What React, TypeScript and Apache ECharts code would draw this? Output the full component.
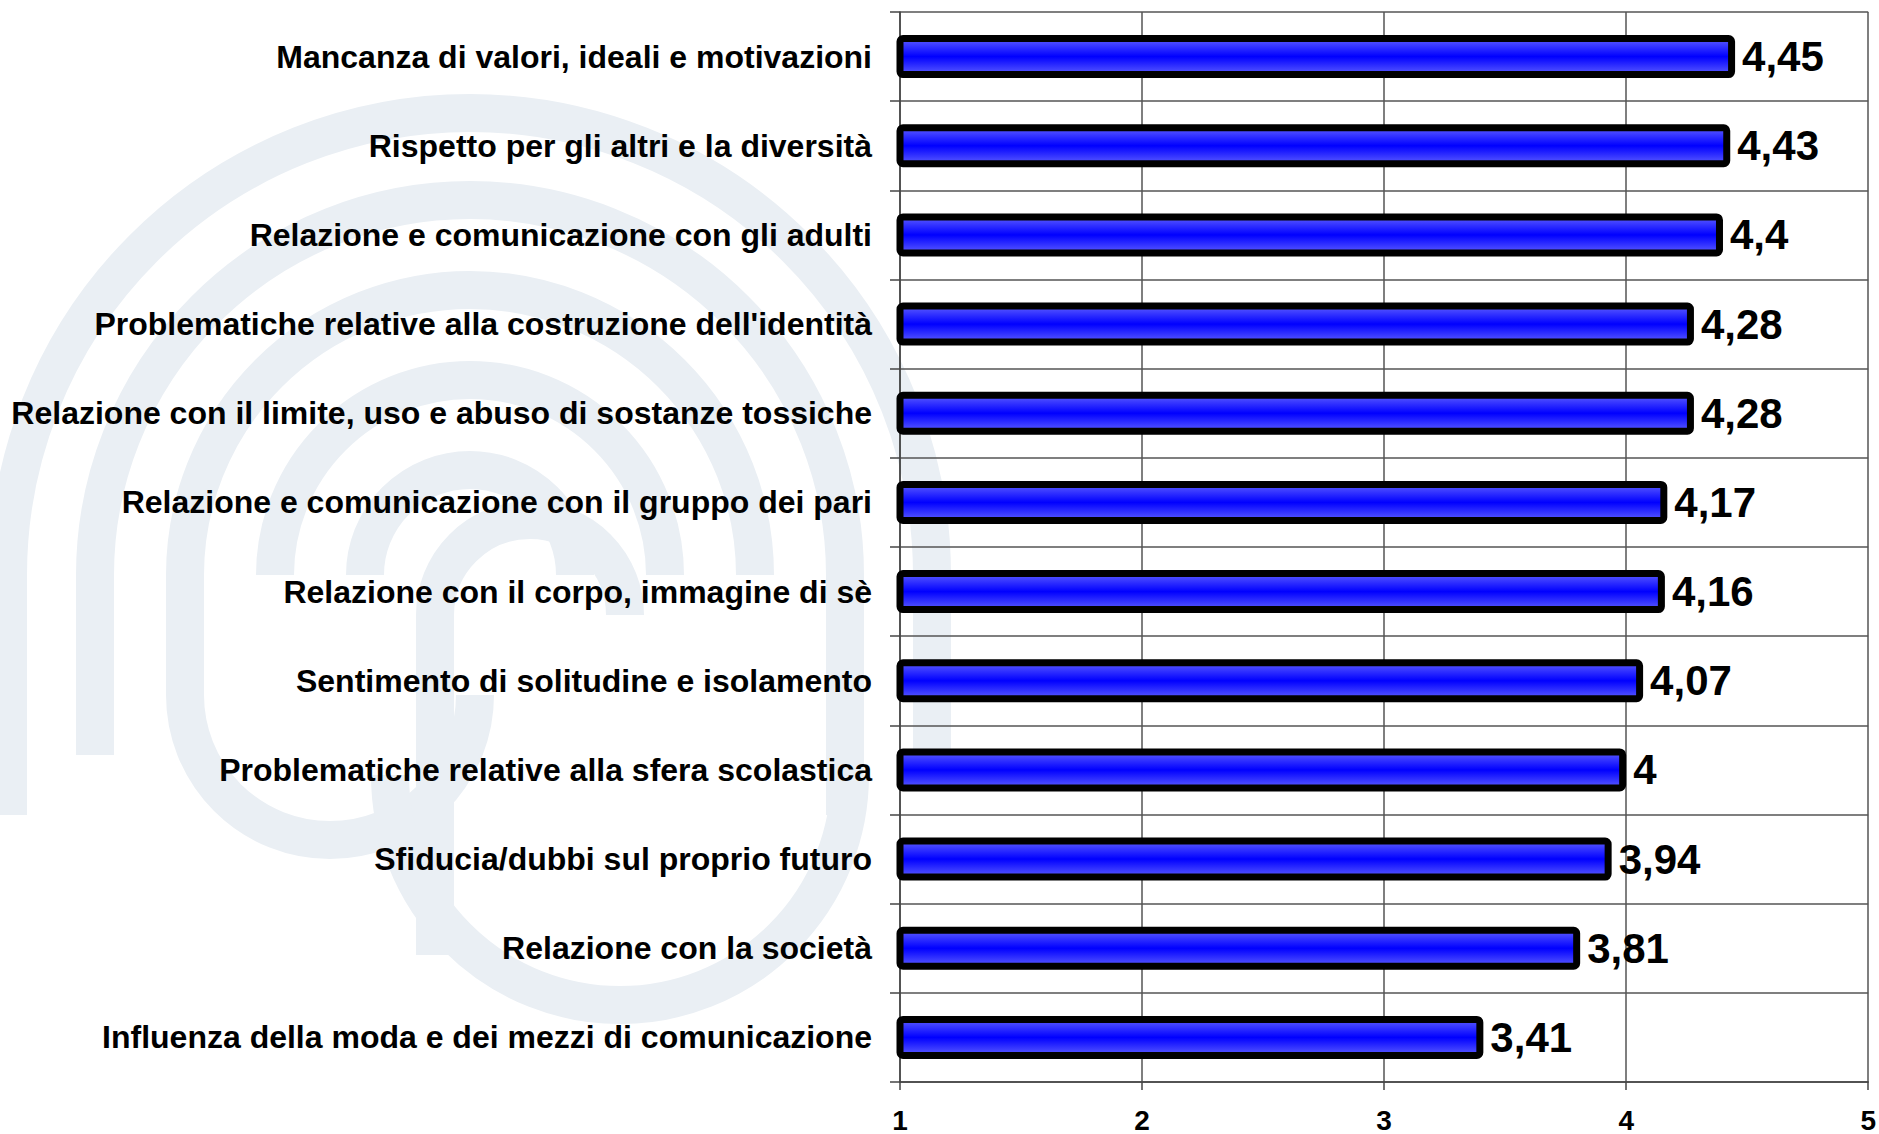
import React, { useEffect, useRef } from "react";
import * as echarts from "echarts";

const categories = [
  "Mancanza di valori, ideali e motivazioni",
  "Rispetto per gli altri e la diversità",
  "Relazione e comunicazione con gli adulti",
  "Problematiche relative alla costruzione dell'identità",
  "Relazione con il limite, uso e abuso di sostanze tossiche",
  "Relazione e comunicazione con il gruppo dei pari",
  "Relazione con il corpo, immagine di sè",
  "Sentimento di solitudine e isolamento",
  "Problematiche relative alla sfera scolastica",
  "Sfiducia/dubbi sul proprio futuro",
  "Relazione con la società",
  "Influenza della moda e dei mezzi di comunicazione",
];
const values = [4.45, 4.43, 4.4, 4.28, 4.28, 4.17, 4.16, 4.07, 4, 3.94, 3.81, 3.41];
const axisMin = 1;
const axisMax = 5;
const axisStep = 1;

const FONT = "'Liberation Sans', Arial, sans-serif";

function watermark() {
  const stroke = "#eaeff4";
  const lw = 38;
  const common = { z: -10, silent: true };
  const st = { stroke, lineWidth: lw, fill: "none" };
  const els: any[] = [];
  const cx = 470;
  const cy = 575;
  const radii = [105, 195, 285, 375, 462];
  radii.forEach((r) => {
    els.push({
      type: "arc",
      ...common,
      shape: { cx, cy, r, startAngle: Math.PI, endAngle: Math.PI * 2 },
      style: st,
    });
  });
  [375, 462].forEach((r, i) => {
    els.push({
      type: "line",
      ...common,
      shape: { x1: cx + r, y1: cy, x2: cx + r, y2: cy + 240 - i * 40 },
      style: st,
    });
  });
  [285, 375, 462].forEach((r, i) => {
    els.push({
      type: "line",
      ...common,
      shape: { x1: cx - r, y1: cy, x2: cx - r, y2: cy + 120 + i * 60 },
      style: st,
    });
  });
  els.push({
    type: "arc",
    ...common,
    shape: { cx: cx - 140, cy: cy + 120, r: 145, startAngle: 0, endAngle: Math.PI },
    style: st,
  });
  els.push({
    type: "arc",
    ...common,
    shape: { cx: cx + 150, cy: cy + 200, r: 230, startAngle: 0, endAngle: Math.PI },
    style: st,
  });
  els.push({
    type: "arc",
    ...common,
    shape: { cx: cx + 60, cy: cy + 40, r: 95, startAngle: Math.PI, endAngle: Math.PI * 2 },
    style: st,
  });
  els.push({
    type: "line",
    ...common,
    shape: { x1: cx - 35, y1: cy + 40, x2: cx - 35, y2: cy + 380 },
    style: st,
  });
  return els;
}

export default function App() {
  const ref = useRef<HTMLDivElement>(null);
  useEffect(() => {
    if (!ref.current) return;
    const chart = echarts.init(ref.current, null, { renderer: "svg" });
    chart.setOption({
      animation: false,
      backgroundColor: "#ffffff",
      graphic: watermark(),
      grid: { left: 900, right: 9, top: 12, bottom: 47 },
      xAxis: {
        type: "value",
        min: axisMin,
        max: axisMax,
        interval: axisStep,
        axisLine: { show: true, lineStyle: { color: "#444", width: 1.5 } },
        axisTick: { show: true, length: 8, lineStyle: { color: "#444", width: 1.5 } },
        splitLine: { show: true, lineStyle: { color: "#555", width: 1.5 } },
        axisLabel: {
          color: "#000",
          fontSize: 28,
          fontWeight: "bold",
          fontFamily: FONT,
          margin: 24,
        },
      },
      yAxis: {
        type: "category",
        data: categories,
        inverse: true,
        axisLine: { show: true, lineStyle: { color: "#444", width: 1.5 } },
        axisTick: { show: true, length: 10, lineStyle: { color: "#444", width: 1.5 } },
        splitLine: { show: true, lineStyle: { color: "#555", width: 1.5 } },
        axisLabel: {
          color: "#000",
          fontSize: 32,
          fontWeight: "bold",
          fontFamily: FONT,
          margin: 28,
        },
      },
      series: [
        {
          type: "bar",
          data: values,
          barWidth: 43,
          clip: true,
          itemStyle: {
            color: new echarts.graphic.LinearGradient(0, 0, 0, 1, [
              { offset: 0, color: "#5c5cff" },
              { offset: 0.5, color: "#0000ff" },
              { offset: 1, color: "#5c5cff" },
            ]),
            borderColor: "#000",
            borderWidth: 7,
            borderRadius: 3,
          },
          label: {
            show: true,
            position: "right",
            distance: 7,
            color: "#000",
            fontSize: 42,
            fontWeight: "bold",
            fontFamily: FONT,
            formatter: (p: any) => String(p.value).replace(".", ","),
          },
        },
      ],
    });
    return () => chart.dispose();
  }, []);
  return (
    <div
      ref={ref}
      style={{ position: "fixed", left: 0, top: 0, width: 1879, height: 1134, background: "#fff" }}
    />
  );
}
